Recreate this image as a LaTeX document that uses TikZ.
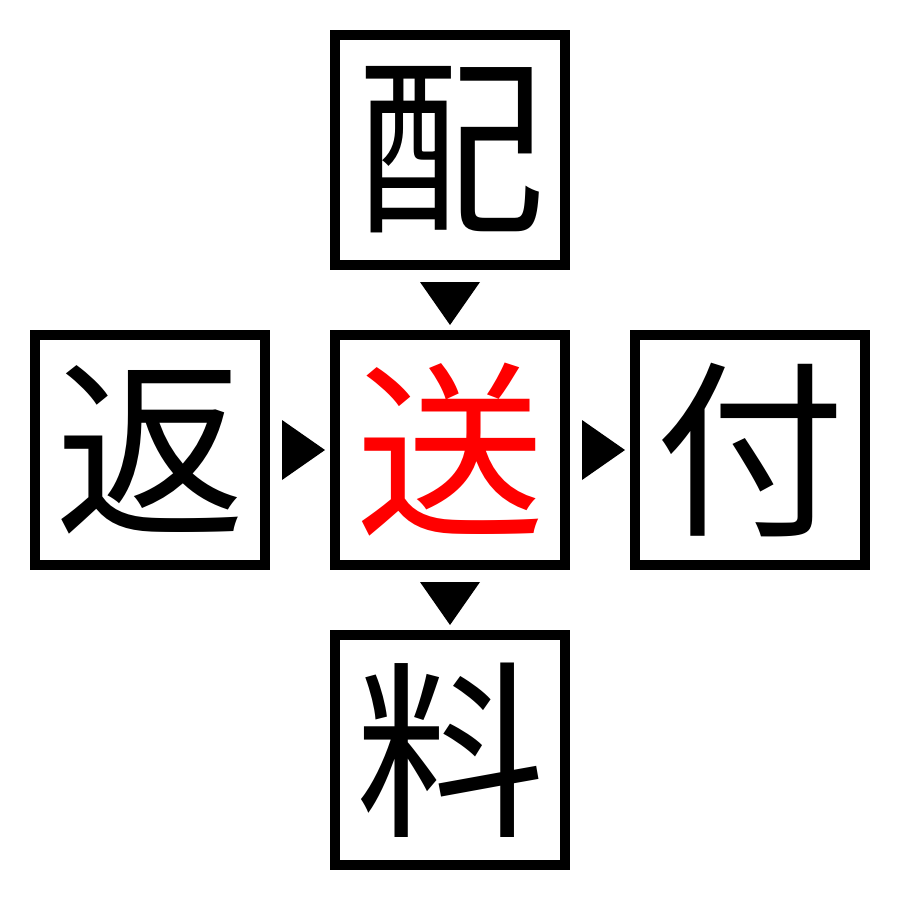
\documentclass[tikz,border=0pt]{standalone}
\usepackage{fontspec}
\newfontfamily\cjk{Noto Sans CJK JP}
\begin{document}
\begin{tikzpicture}[x=0.01cm,y=-0.01cm,
  kbox/.style={draw=black,line width=0.1cm,minimum size=2.3cm,inner sep=0pt,outer sep=0pt,font=\cjk\fontsize{54pt}{54pt}\selectfont},
  tri/.style={fill=black,draw=none}]
\useasboundingbox (0,0) rectangle (900,900);
\node[kbox] (top) at (450,150) {配};
\node[kbox] (left) at (150,450) {返};
\node[kbox,text=red] (mid) at (450,450) {送};
\node[kbox] (right) at (750,450) {付};
\node[kbox] (bot) at (450,750) {料};
% arrows
\fill[tri] (420,282) -- (480,282) -- (450,325) -- cycle;
\fill[tri] (282,420) -- (282,480) -- (325,450) -- cycle;
\fill[tri] (582,420) -- (582,480) -- (625,450) -- cycle;
\fill[tri] (420,582) -- (480,582) -- (450,625) -- cycle;
\end{tikzpicture}
\end{document}
